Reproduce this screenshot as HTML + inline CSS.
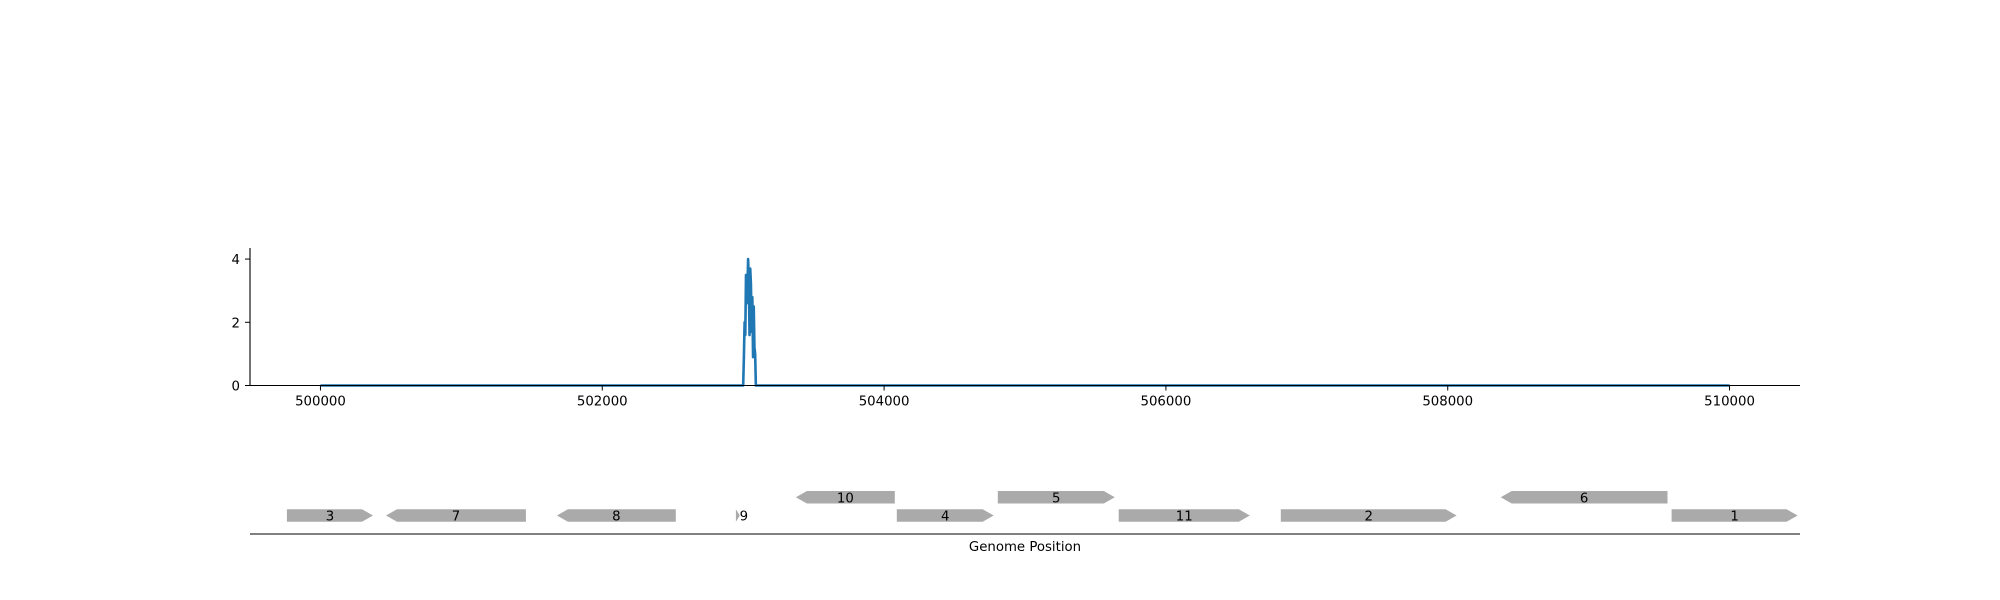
<!DOCTYPE html>
<html><head><meta charset="utf-8"><style>
html,body{margin:0;padding:0;background:#fff;}
svg{display:block;font-family:"DejaVu Sans","Liberation Sans",sans-serif;}
</style></head><body>
<svg id="chart" width="2000" height="600" viewBox="0 0 2000 600" xmlns="http://www.w3.org/2000/svg"></svg>
<script>
// Coverage data
const covPos = [500000, 503000, 503005, 503010, 503015, 503020, 503025, 503030, 503035, 503040, 503045, 503050, 503055, 503060, 503065, 503070, 503075, 503080, 503085, 503090, 503095, 510000];
const covVal = [0, 0, 0.9, 2.0, 1.6, 3.5, 2.6, 3.0, 4.0, 3.3, 1.6, 3.7, 3.2, 1.7, 2.8, 0.9, 2.5, 1.2, 1.0, 0, 0, 0];
const xTicks = [500000, 502000, 504000, 506000, 508000, 510000];
const yTicks = [0, 2, 4];
// Genes
const geneNames = ["3","7","8","9","10","4","5","11","2","6","1"];
const geneStart = [499762, 500465, 501678, 502948, 503374, 504090, 504807, 505665, 506815, 508376, 509589];
const geneEnd   = [500373, 501458, 502522, 502976, 504076, 504778, 505637, 506595, 508063, 509560, 510483];
const geneStrand = [1, -1, -1, 1, -1, 1, 1, 1, 1, -1, 1];
const geneRow = [0, 0, 0, 0, 1, 0, 1, 0, 0, 1, 0];

const NS = "http://www.w3.org/2000/svg";
const svg = document.getElementById('chart');
const X0 = 250, X1 = 1800, D0 = 499500, D1 = 510500;
const Y0 = 385.5, YT = 248, V0 = 0, VT = 4.35;
const xs = v => X0 + (v - D0) / (D1 - D0) * (X1 - X0);
const ys = v => Y0 - (v - V0) / (VT - V0) * (Y0 - YT);
function mk(tag, attrs, parent) {
  const e = document.createElementNS(NS, tag);
  for (const k in attrs) e.setAttribute(k, attrs[k]);
  (parent || svg).appendChild(e);
  return e;
}
// coverage line
let d = '';
covPos.forEach((p, i) => { d += (i ? 'L' : 'M') + xs(p).toFixed(2) + ' ' + ys(covVal[i]).toFixed(2); });
const line = mk('path', {d: d, fill: 'none', stroke: '#1f77b4', 'stroke-width': 2.6, 'stroke-linejoin': 'round'});


// axes
const yAxis = mk('line', {x1: X0, y1: YT, x2: X0, y2: Y0, stroke: '#000', 'stroke-width': 1.1});


const xAxis = mk('line', {x1: X0, y1: Y0, x2: X1, y2: Y0, stroke: '#000', 'stroke-width': 1.1});


xTicks.forEach(t => {
  const x = xs(t);
  const tk = mk('line', {x1: x, y1: Y0, x2: x, y2: Y0 + 5, stroke: '#000', 'stroke-width': 1});
  
  
  const tx = mk('text', {x: x, y: Y0 + 20, 'text-anchor': 'middle', 'font-size': 13.3});
  tx.textContent = t;
  
  
});
yTicks.forEach(t => {
  const y = ys(t);
  const tk = mk('line', {x1: X0 - 5, y1: y, x2: X0, y2: y, stroke: '#000', 'stroke-width': 1});
  
  
  const tx = mk('text', {x: X0 - 10, y: y + 5, 'text-anchor': 'end', 'font-size': 13.3});
  tx.textContent = t;
  
  
});
// gene track
const rowTop = [509.3, 491], H = 12.5, HEAD = 11;
geneNames.forEach((n, i) => {
  const a = xs(geneStart[i]), b = xs(geneEnd[i]);
  const t = rowTop[geneRow[i]], m = t + H / 2, bt = t + H;
  const hl = Math.min(HEAD, b - a);
  let pts;
  if (geneStrand[i] > 0) pts = [[a,t],[b-hl,t],[b,m],[b-hl,bt],[a,bt]];
  else pts = [[b,t],[a+hl,t],[a,m],[a+hl,bt],[b,bt]];
  const g = mk('polygon', {points: pts.map(p => p[0].toFixed(1) + ',' + p[1].toFixed(1)).join(' '), fill: '#aaaaaa'});
  
  
  const lx = n === '9' ? b + 4 : (a + b) / 2;
  const tx = mk('text', {x: lx, y: m + 5, 'text-anchor': 'middle', 'font-size': 13.3});
  tx.textContent = n;
  
  
});
const base = mk('line', {x1: X0, y1: 534, x2: X1, y2: 534, stroke: '#000', 'stroke-width': 1.1});


const xt = mk('text', {x: 1025, y: 551, 'text-anchor': 'middle', 'font-size': 13.3});
xt.textContent = 'Genome Position';


</script>
</body></html>
